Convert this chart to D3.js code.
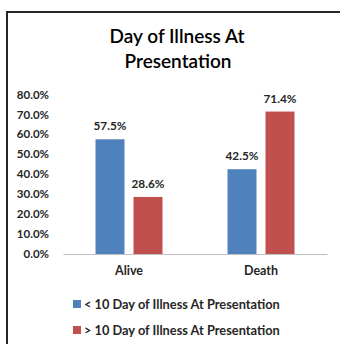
<!DOCTYPE html>
<html>
<head>
<meta charset="utf-8">
<script src="https://cdn.jsdelivr.net/npm/d3@7/dist/d3.min.js"></script>
<style>
  html, body { margin: 0; padding: 0; background: #fff; }
  svg { display: block; }
  text { font-family: Lato, "Open Sans", sans-serif; }
</style>
</head>
<body>
<script>
// Outcome categories and the two illness-duration series (percent)
const categories = ["Alive", "Death"];
const seriesNames = ["< 10 Day of Illness At Presentation", "> 10 Day of Illness At Presentation"];
const lessThan10 = [57.5, 42.5];
const moreThan10 = [28.6, 71.4];
const yTicks = [0, 10, 20, 30, 40, 50, 60, 70, 80];
const colors = ["#4F81BD", "#C0504D"];

const W = 340, H = 344;
const svg = d3.select("body").append("svg").attr("width", W).attr("height", H);

// Chart frame (top and left edges visible)
svg.append("path")
  .attr("d", `M7,${H} L7,12 L${W},12`)
  .attr("fill", "none").attr("stroke", "#262626").attr("stroke-width", 2);

// Title
const title = svg.append("text")
  .attr("text-anchor", "middle")
  .attr("font-size", 19).attr("font-weight", 600).attr("fill", "#000");
title.append("tspan").attr("x", 177).attr("y", 43).text("Day of Illness At");
title.append("tspan").attr("x", 178).attr("y", 68).text("Presentation");

const plot = { left: 63, right: 327, top: 94.4, bottom: 254 };

const x0 = d3.scaleBand().domain(categories).range([plot.left, plot.right]).paddingInner(0).paddingOuter(0);
const y = d3.scaleLinear().domain([0, 80]).range([plot.bottom, plot.top]);

// Y axis labels (no axis line)
const yAxis = d3.axisLeft(y).tickValues(yTicks).tickSize(0).tickPadding(14)
  .tickFormat(d => d3.format(".1f")(d) + "%");
const yg = svg.append("g").attr("transform", `translate(${plot.left},0)`).call(yAxis);
yg.select(".domain").remove();
yg.selectAll("text").attr("font-size", 11.5).attr("font-weight", 700).attr("fill", "#262626")
  .attr("font-family", "Lato, sans-serif");

// Category baseline
const xAxis = d3.axisBottom(x0).tickSize(0).tickPadding(12);
const xg = svg.append("g").attr("transform", `translate(0,${plot.bottom})`).call(xAxis);
xg.select(".domain").attr("stroke", "#BFBFBF").attr("stroke-width", 1.2);
xg.selectAll("text").attr("font-size", 12.5).attr("font-weight", 700).attr("fill", "#262626")
  .attr("font-family", "Lato, sans-serif");

// Bars, grouped per category
const barW = 29, gap = 9;
const seriesData = [lessThan10, moreThan10];
const groupW = barW * 2 + gap;

categories.forEach((cat, ci) => {
  const gx = x0(cat) + (x0.bandwidth() - groupW) / 2;
  seriesData.forEach((vals, si) => {
    const bx = gx + si * (barW + gap);
    const v = vals[ci];
    svg.append("rect")
      .attr("x", bx).attr("y", y(v))
      .attr("width", barW).attr("height", y(0) - y(v))
      .attr("fill", colors[si]);
    svg.append("text")
      .attr("x", bx + barW / 2).attr("y", y(v) - 9)
      .attr("text-anchor", "middle")
      .attr("font-size", 11.8).attr("font-weight", 700).attr("fill", "#262626")
      .text(d3.format(".1f")(v) + "%");
  });
});

// Legend
const legend = svg.append("g");
seriesNames.forEach((name, i) => {
  const ly = 304 + i * 26;
  legend.append("rect").attr("x", 73).attr("y", ly - 4).attr("width", 8).attr("height", 8).attr("fill", colors[i]);
  legend.append("text").attr("x", 84).attr("y", ly + 4.5)
    .attr("font-size", 12.8).attr("font-weight", 700).attr("fill", "#262626")
    .text(name);
});
</script>
</body>
</html>
